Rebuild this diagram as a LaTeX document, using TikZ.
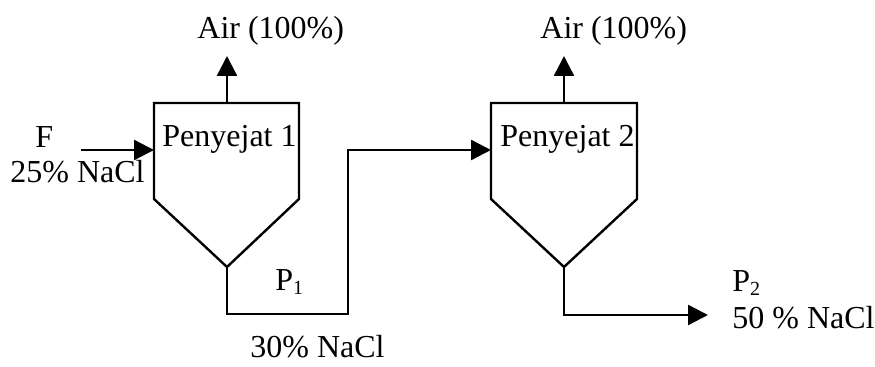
\documentclass[tikz,border=0pt]{standalone}
\usepackage{fontspec}
\setmainfont{Liberation Serif}
\usetikzlibrary{arrows.meta}
\begin{document}
\begin{tikzpicture}[x=0.5pt,y=-0.5pt,
  line/.style={line width=1.2pt, line join=miter},
  flow/.style={line, -{Triangle[length=10pt,width=10pt]}},
  lbl/.style={anchor=base west, inner sep=0pt, font=\fontsize{16}{18}\selectfont}]
\useasboundingbox (0,0) rectangle (875,367);
% evaporator 1
\coordinate (e1tl) at (154,103);
\coordinate (e1tr) at (299,103);
\coordinate (e1bl) at (154,199);
\coordinate (e1br) at (299,199);
\coordinate (e1tip) at (227,267);
\coordinate (e1top) at (227,103);
\coordinate (e1in) at (154,150);
\draw[line] (e1bl) -- (e1tl) -- (e1tr) -- (e1br) -- (e1tip) -- cycle;
% evaporator 2
\coordinate (e2tl) at (491,103);
\coordinate (e2tr) at (637,103);
\coordinate (e2bl) at (491,199);
\coordinate (e2br) at (637,199);
\coordinate (e2tip) at (564,267);
\coordinate (e2top) at (564,103);
\coordinate (e2in) at (491,150);
\draw[line] (e2bl) -- (e2tl) -- (e2tr) -- (e2br) -- (e2tip) -- cycle;
% free ends
\coordinate (air1) at (227,56);
\coordinate (air2) at (564,56);
\coordinate (feed) at (81,150);
\coordinate (p1a) at (227,314);
\coordinate (p1b) at (348,314);
\coordinate (p1c) at (348,150);
\coordinate (p2a) at (564,315);
\coordinate (p2out) at (708,315);
% connectors
\draw[flow] (e1top) -- (air1);
\draw[flow] (e2top) -- (air2);
\draw[flow] (feed) -- (e1in);
\draw[flow] (e1tip) -- (p1a) -- (p1b) -- (p1c) -- (e2in);
\draw[flow] (e2tip) -- (p2a) -- (p2out);
% labels
\node[lbl] (tair1) at (197,39) {Air (100\%)};
\node[lbl] (tair2) at (540,39) {Air (100\%)};
\node[lbl] (tf) at (35,148) {F};
\node[lbl] (tf2) at (10,183) {25\% NaCl};
\node[lbl] (tpen1) at (162,147) {Penyejat 1};
\node[lbl] (tpen2) at (500,147) {Penyejat 2};
\node[lbl] (tp1) at (275,291) {P\raisebox{-0.25ex}{\fontsize{10}{11}\selectfont 1}};
\node[lbl] (tp1c) at (250,358) {30\% NaCl};
\node[lbl] (tp2) at (732,292) {P\raisebox{-0.25ex}{\fontsize{10}{11}\selectfont 2}};
\node[lbl] (tp2c) at (732,329) {50 \% NaCl};
\end{tikzpicture}
\end{document}
